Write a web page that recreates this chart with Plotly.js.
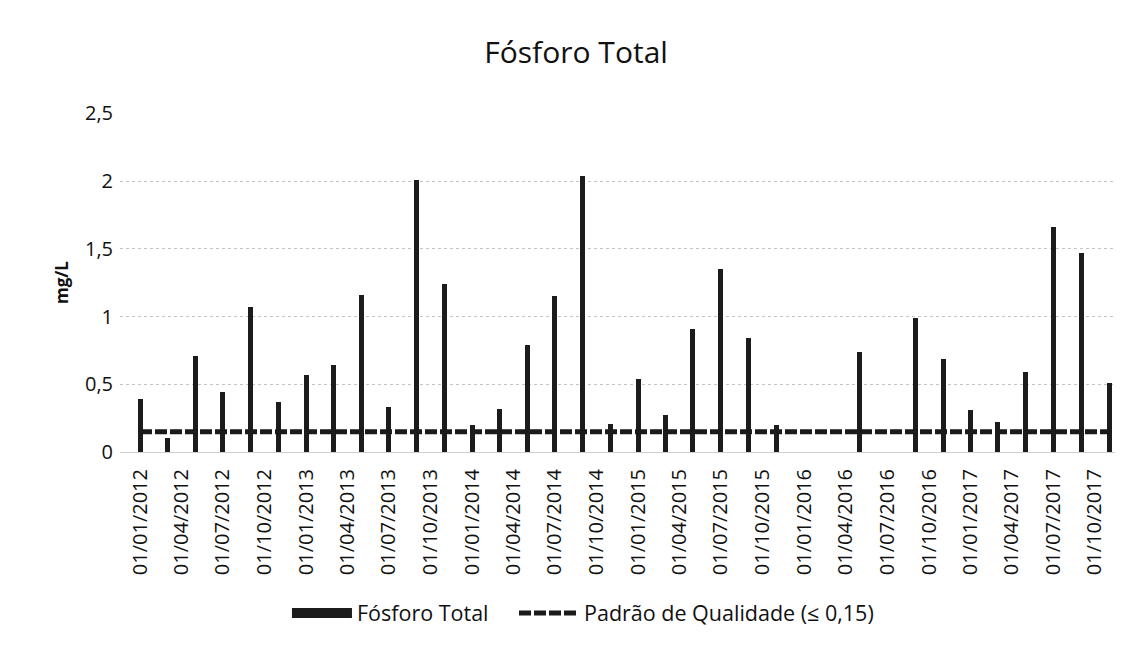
<!DOCTYPE html>
<html>
<head>
<meta charset="utf-8">
<script src="https://cdn.plot.ly/plotly-3.0.1.min.js"></script>
<style>
  html, body { margin: 0; padding: 0; background: #ffffff; }
  #chart { width: 1123px; height: 651px; }
</style>
</head>
<body>
<div id="chart"></div>
<script>
// Sampling dates (bimonthly)
const sampleDates = [
  '2012-01-01','2012-03-01','2012-05-01','2012-07-01','2012-09-01','2012-11-01',
  '2013-01-01','2013-03-01','2013-05-01','2013-07-01','2013-09-01','2013-11-01',
  '2014-01-01','2014-03-01','2014-05-01','2014-07-01','2014-09-01','2014-11-01',
  '2015-01-01','2015-03-01','2015-05-01','2015-07-01','2015-09-01','2015-11-01',
  '2016-01-01','2016-03-01','2016-05-01','2016-07-01','2016-09-01','2016-11-01',
  '2017-01-01','2017-03-01','2017-05-01','2017-07-01','2017-09-01','2017-11-01'
];

// Fósforo Total (mg/L)
const fosforoTotal = [
  0.39, 0.10, 0.71, 0.44, 1.07, 0.37,
  0.57, 0.64, 1.16, 0.33, 2.01, 1.24,
  0.20, 0.32, 0.79, 1.15, 2.04, 0.21,
  0.54, 0.27, 0.91, 1.35, 0.84, 0.20,
  null, null, 0.74, null, 0.99, 0.69,
  0.31, 0.22, 0.59, 1.66, 1.47, 0.51
];

// Padrão de Qualidade (≤ 0,15)
const padraoQualidade = [
  0.15, 0.15, 0.15, 0.15, 0.15, 0.15,
  0.15, 0.15, 0.15, 0.15, 0.15, 0.15,
  0.15, 0.15, 0.15, 0.15, 0.15, 0.15,
  0.15, 0.15, 0.15, 0.15, 0.15, 0.15,
  0.15, 0.15, 0.15, 0.15, 0.15, 0.15,
  0.15, 0.15, 0.15, 0.15, 0.15, 0.15
];

const seriesNames = ['Fósforo Total', 'Padrão de Qualidade (≤ 0,15)'];
const chartTitle = 'Fósforo Total';
const yAxisTitle = 'mg/L';

const FONT = 'Open Sans, Liberation Sans, sans-serif';
const BAR_COLOR = '#1c1c1c';

const traces = [
  {
    type: 'bar',
    name: seriesNames[0],
    legendgroup: 'fosforo',
    showlegend: false,
    x: sampleDates,
    y: fosforoTotal,
    width: 11 * 86400000,
    marker: { color: BAR_COLOR, line: { width: 0 } },
    hoverinfo: 'x+y'
  },
  {
    // legend-only entry giving the wide filled swatch of the original legend
    type: 'scatter',
    mode: 'lines',
    name: seriesNames[0],
    legendgroup: 'fosforo',
    legend: 'legend',
    x: [null],
    y: [null],
    line: { color: BAR_COLOR, width: 11 }
  },
  {
    type: 'scatter',
    mode: 'lines',
    name: seriesNames[1],
    legend: 'legend2',
    x: sampleDates,
    y: padraoQualidade,
    connectgaps: true,
    line: { color: '#1a1a1a', width: 5, dash: '12px,3px' }
  }
];

const legendBase = {
  orientation: 'h',
  xanchor: 'left',
  y: -0.475, yanchor: 'middle',
  font: { family: FONT, size: 21.5, color: '#111111' },
  itemwidth: 60,
  bgcolor: 'rgba(0,0,0,0)'
};

const layout = {
  width: 1123,
  height: 651,
  paper_bgcolor: '#ffffff',
  plot_bgcolor: '#ffffff',
  separators: ', ',
  font: { family: FONT, color: '#111111', size: 20 },
  margin: { l: 120, r: 8, t: 113, b: 199 },
  title: {
    text: chartTitle,
    font: { family: FONT, size: 30, color: '#111111' },
    x: 0.513, xanchor: 'center',
    y: 0.92, yanchor: 'middle'
  },
  bargap: 0,
  xaxis: {
    type: 'date',
    range: ['2011-11-18', '2017-11-14'],
    tick0: '2012-01-01',
    dtick: 'M3',
    tickformat: '%d/%m/%Y',
    tickangle: -90,
    tickfont: { family: FONT, size: 20, color: '#111111' },
    ticklabelstandoff: 8,
    showgrid: false,
    zeroline: false,
    showline: true,
    linecolor: '#d0d0d0',
    linewidth: 1,
    ticks: ''
  },
  yaxis: {
    range: [0, 2.502],
    tickvals: [0, 0.5, 1, 1.5, 2, 2.5],
    showgrid: true,
    gridcolor: '#c4c4c4',
    griddash: 'dot',
    gridwidth: 1,
    zeroline: false,
    showline: false,
    ticks: '',
    ticklabelstandoff: 6,
    tickfont: { family: FONT, size: 20, color: '#111111' },
    title: {
      text: yAxisTitle,
      font: { family: FONT, size: 17, color: '#111111', weight: 'bold' },
      standoff: 12
    }
  },
  showlegend: true,
  legend: Object.assign({}, legendBase, { x: 0.1678 }),
  legend2: Object.assign({}, legendBase, { x: 0.396 })
};

Plotly.newPlot('chart', traces, layout, { displayModeBar: false, staticPlot: true });
</script>
</body>
</html>
